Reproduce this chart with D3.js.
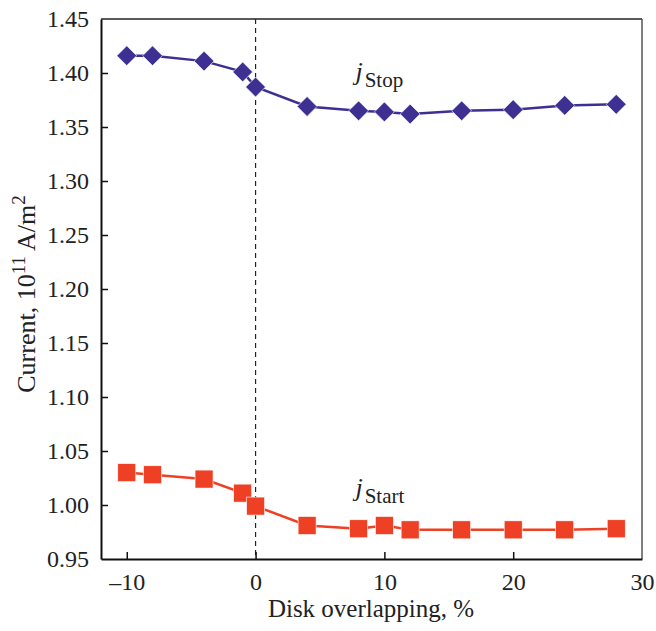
<!DOCTYPE html>
<html>
<head>
    <meta charset="UTF-8" />
    <title>current vs overlapping</title>
    <style>
        body {
            margin: 0;
            padding: 0;
            background: white;
        }
        svg text {
            font-family: 'Liberation Serif', 'Times New Roman', Times, 'DejaVu Serif', serif !important;
        }
    </style>
</head>
<body>
    <div id="chart"></div>
    <script src="https://cdnjs.cloudflare.com/ajax/libs/d3/7.8.5/d3.min.js"></script>
    <script>
        const overlap = [-10, -8, -4, -1, 0, 4, 8, 10, 12, 16, 20, 24, 28]
        const jStop = [1.416, 1.416, 1.411, 1.401, 1.387, 1.369, 1.365, 1.364, 1.362, 1.365, 1.366, 1.370, 1.371]
        const jStart = [1.030, 1.028, 1.024, 1.011, 0.999, 0.981, 0.978, 0.981, 0.977, 0.977, 0.977, 0.977, 0.978]
        const xTicks = [-10, 0, 10, 20, 30]
        const yTicks = [0.95, 1.00, 1.05, 1.10, 1.15, 1.20, 1.25, 1.30, 1.35, 1.40, 1.45]

        const width = 656, height = 631
        const m = { left: 101, right: 14, top: 19, bottom: 72 }
        const blue = '#3d3092', red = '#ee4025'
        const ink = '#222'

        const svg = d3.select('#chart').append('svg')
            .attr('width', width)
            .attr('height', height)

        const x = d3.scaleLinear().domain([-12, 30]).range([m.left, width - m.right])
        const y = d3.scaleLinear().domain([0.95, 1.45]).range([height - m.bottom, m.top])

        // frame: top and right thin
        svg.append('line')
            .attr('x1', x(-12)).attr('x2', x(30)).attr('y1', y(1.45)).attr('y2', y(1.45))
            .attr('stroke', '#222').attr('stroke-width', 1.5)
        svg.append('line')
            .attr('x1', x(30)).attr('x2', x(30)).attr('y1', y(1.45)).attr('y2', y(0.95))
            .attr('stroke', '#555').attr('stroke-width', 1.5)

        // dashed line at zero
        svg.append('line')
            .attr('x1', x(0)).attr('x2', x(0)).attr('y1', y(1.45)).attr('y2', y(0.95))
            .attr('stroke', '#222').attr('stroke-width', 1.2)
            .attr('stroke-dasharray', '5,4')

        const xAxis = svg.append('g')
            .attr('transform', `translate(0,${y(0.95)})`)
            .call(d3.axisBottom(x).tickValues(xTicks).tickSizeInner(-7).tickSizeOuter(0)
                .tickFormat(d => d < 0 ? '\u2013' + Math.abs(d) : d))
        xAxis.attr('font-family', null)
        xAxis.select('.domain').attr('stroke', '#111').attr('stroke-width', 2)
        xAxis.selectAll('.tick line').attr('stroke', '#111').attr('stroke-width', 1.5)
        xAxis.selectAll('.tick').filter(d => d === 30).select('line').remove()
        xAxis.selectAll('text').attr('dy', 0).attr('y', 31)
            .style('font-size', '24px').attr('fill', ink)

        const yAxis = svg.append('g')
            .attr('transform', `translate(${x(-12)},0)`)
            .call(d3.axisLeft(y).tickValues(yTicks).tickSizeInner(-7).tickSizeOuter(0)
                .tickFormat(d3.format('.2f')))
        yAxis.attr('font-family', null)
        yAxis.select('.domain').attr('stroke', '#111').attr('stroke-width', 2)
        yAxis.selectAll('.tick line').attr('stroke', '#111').attr('stroke-width', 1.5)
        yAxis.selectAll('.tick').filter(d => d === 1.45 || d === 0.95).select('line').remove()
        yAxis.selectAll('text').attr('x', -12)
            .style('font-size', '24px').attr('fill', ink)

        const line = d3.line().x(d => x(d[0])).y(d => y(d[1]))
        const stopPts = overlap.map((o, i) => [o, jStop[i]])
        const startPts = overlap.map((o, i) => [o, jStart[i]])

        svg.append('path').datum(stopPts).attr('d', line)
            .attr('fill', 'none').attr('stroke', blue).attr('stroke-width', 2.5)
        svg.append('path').datum(startPts).attr('d', line)
            .attr('fill', 'none').attr('stroke', red).attr('stroke-width', 2.5)

        svg.selectAll('.diamond').data(stopPts).join('path')
            .attr('class', 'diamond')
            .attr('d', d3.symbol(d3.symbolDiamond2, 250))
            .attr('transform', d => `translate(${x(d[0])},${y(d[1])})`)
            .attr('fill', blue).attr('stroke', 'white').attr('stroke-width', 0.6)

        svg.selectAll('.square').data(startPts).join('rect')
            .attr('class', 'square')
            .attr('x', d => x(d[0]) - 9).attr('y', d => y(d[1]) - 9)
            .attr('width', 18).attr('height', 18)
            .attr('fill', red).attr('stroke', 'white').attr('stroke-width', 0.6)

        // series labels
        function seriesLabel(px, py, sub) {
            const t = svg.append('text').attr('x', px).attr('y', py)
                .style('font-size', '26px').attr('fill', ink)
            t.append('tspan').text('j').style('font-style', 'italic')
            t.append('tspan').text(sub).attr('dx', 2).attr('dy', 7).style('font-size', '21px')
        }
        seriesLabel(x(7.75), y(1.3935), 'Stop')
        seriesLabel(x(7.75), y(1.0085), 'Start')

        svg.append('text')
            .attr('x', 371).attr('y', 617)
            .attr('text-anchor', 'middle')
            .style('font-size', '25px').attr('fill', ink)
            .text('Disk overlapping, %')

        const yl = svg.append('text')
            .attr('transform', `translate(35,294) rotate(-90)`)
            .attr('text-anchor', 'middle')
            .style('font-size', '26px').attr('fill', ink)
        yl.append('tspan').text('Current, 10')
        yl.append('tspan').text('11').attr('dy', -10).style('font-size', '19px')
        yl.append('tspan').text(' A/m').attr('dy', 10)
        yl.append('tspan').text('2').attr('dy', -10).style('font-size', '19px')
    </script>
</body>
</html>
